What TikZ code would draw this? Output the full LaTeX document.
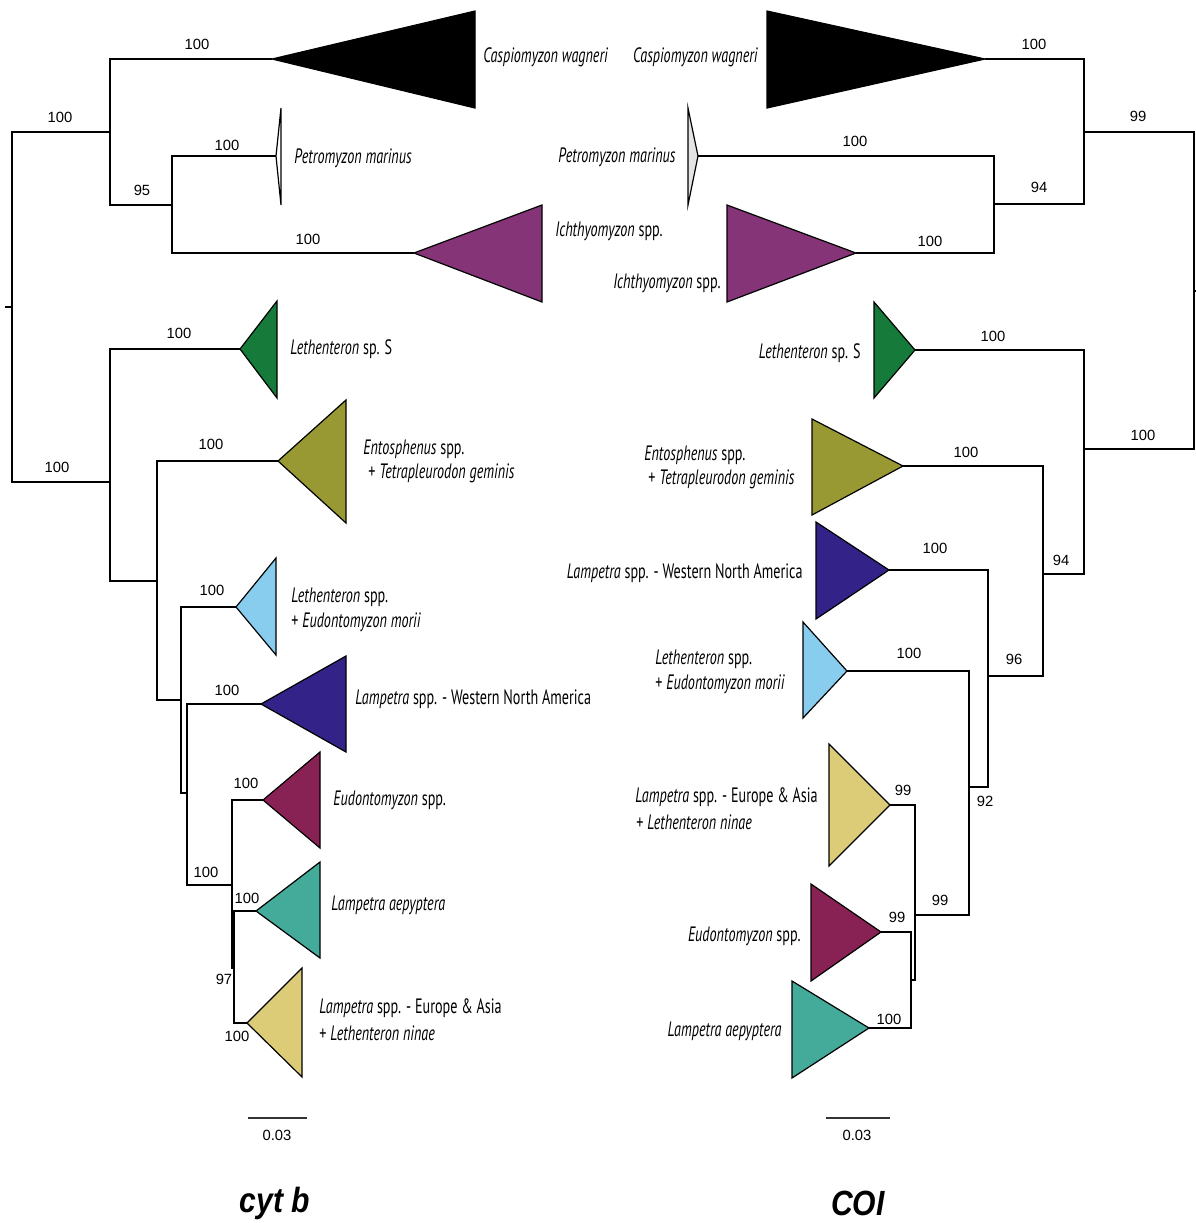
\documentclass[tikz,border=0pt]{standalone}
\usepackage{fontspec}
\setmainfont{Liberation Sans}
\newfontfamily\labf[FakeStretch=0.68]{PT Sans}
\newfontfamily\titf[FakeStretch=0.86]{Liberation Sans}
\definecolor{cpurple}{HTML}{843477}
\definecolor{cgreen}{HTML}{157A3A}
\definecolor{colive}{HTML}{999933}
\definecolor{ccyan}{HTML}{88CCEE}
\definecolor{cindigo}{HTML}{332288}
\definecolor{cwine}{HTML}{882255}
\definecolor{cteal}{HTML}{44AA99}
\definecolor{csand}{HTML}{DDCC77}
\definecolor{cgray}{HTML}{E4E4E4}
\begin{document}
\begin{tikzpicture}[x=0.5pt,y=-0.5pt,
  branch/.style={draw=black,line width=0.6pt},
  clade/.style={draw=black,line width=0.6pt,line join=miter},
  bs/.style={inner sep=0pt,font=\fontsize{7.4}{8}\selectfont},
  lab/.style={inner sep=0pt,font=\labf\fontsize{10.4}{12}\selectfont},
  labL/.style={lab,anchor=west},
  labR/.style={lab,anchor=east},
  ttl/.style={inner sep=0pt,font=\titf\bfseries\itshape\fontsize{17.5}{20}\selectfont}]
\useasboundingbox[fill=white] (0,0) rectangle (1196,1223);

% ---------------- LEFT TREE (cyt b) ----------------
\coordinate (R) at (12,307);
\coordinate (Rt) at (5,307);
\coordinate (N1) at (110,132);
\coordinate (N2) at (172,205);
\coordinate (N3) at (110,482);
\coordinate (N4) at (157,581);
\coordinate (N5) at (181,700);
\coordinate (N6) at (187,793);
\coordinate (N7) at (232,885);
\coordinate (N8) at (234,968);
\coordinate (cas) at (272,59);
\coordinate (pet) at (276,156);
\coordinate (ich) at (414,253);
\coordinate (les) at (240,349);
\coordinate (ent) at (278,461);
\coordinate (lsp) at (236,607);
\coordinate (wna) at (261,704);
\coordinate (eud) at (263,800);
\coordinate (lae) at (256,911);
\coordinate (lea) at (247,1023);

\draw[branch] (Rt) -- (R);
\draw[branch] (R) |- (N1);
\draw[branch] (R) |- (N3);
\draw[branch] (N1) |- (cas);
\draw[branch] (N1) |- (N2);
\draw[branch] (N2) |- (pet);
\draw[branch] (N2) |- (ich);
\draw[branch] (N3) |- (les);
\draw[branch] (N3) |- (N4);
\draw[branch] (N4) |- (ent);
\draw[branch] (N4) |- (N5);
\draw[branch] (N5) |- (lsp);
\draw[branch] (N5) |- (N6);
\draw[branch] (N6) |- (wna);
\draw[branch] (N6) |- (N7);
\draw[branch] (N7) |- (eud);
\draw[branch] (N7) |- (N8);
\draw[branch] (N8) |- (lae);
\draw[branch] (N8) |- (lea);

\draw[clade,fill=black] (cas) -- (475,11) -- (475,108) -- cycle;
\draw[clade,fill=white] (pet) -- (281,108) -- (281,205) -- cycle;
\draw[clade,fill=cpurple] (ich) -- (542,205) -- (542,302) -- cycle;
\draw[clade,fill=cgreen] (les) -- (277,301) -- (277,398) -- cycle;
\draw[clade,fill=colive] (ent) -- (346,400) -- (346,523) -- cycle;
\draw[clade,fill=ccyan] (lsp) -- (276,558) -- (276,655) -- cycle;
\draw[clade,fill=cindigo] (wna) -- (346,656) -- (346,752) -- cycle;
\draw[clade,fill=cwine] (eud) -- (320,752) -- (320,848) -- cycle;
\draw[clade,fill=cteal] (lae) -- (320,862) -- (320,958) -- cycle;
\draw[clade,fill=csand] (lea) -- (302,968) -- (302,1077) -- cycle;

\node[bs] (b1) at (60,117) {100};
\node[bs] (b2) at (197,44) {100};
\node[bs] (b3) at (142,190) {95};
\node[bs] (b4) at (227,145) {100};
\node[bs] (b5) at (308,239) {100};
\node[bs] (b6) at (57,467) {100};
\node[bs] (b7) at (179,333) {100};
\node[bs] (b8) at (211,444) {100};
\node[bs] (b9) at (212,590) {100};
\node[bs] (b10) at (227,690) {100};
\node[bs] (b11) at (206,872) {100};
\node[bs] (b12) at (246,783) {100};
\node[bs] (b13) at (247,898) {100};
\node[bs] (b14) at (224,979) {97};
\node[bs] (b15) at (237,1036) {100};

\node[labL] (tcas) at (483,57) {\itshape Caspiomyzon wagneri};
\node[labL] (tpet) at (294,158) {\itshape Petromyzon marinus};
\node[labL] (tich) at (555,231) {\textit{Ichthyomyzon} spp.};
\node[labL] (tles) at (290,349) {\textit{Lethenteron} sp. S};
\node[labL] (tent1) at (363,449) {\textit{Entosphenus} spp.};
\node[labL] (tent2) at (368,473) {+ \textit{Tetrapleurodon geminis}};
\node[labL] (tlsp1) at (291,597) {\textit{Lethenteron} spp.};
\node[labL] (tlsp2) at (291,622) {+ \textit{Eudontomyzon morii}};
\node[labL] (twna) at (355,699) {\textit{Lampetra} spp. - Western North America};
\node[labL] (teud) at (333,800) {\textit{Eudontomyzon} spp.};
\node[labL] (tlae) at (331,905) {\itshape Lampetra aepyptera};
\node[labL] (tlea1) at (319,1008) {\textit{Lampetra} spp. - Europe \& Asia};
\node[labL] (tlea2) at (319,1033) {+ \textit{Lethenteron ninae}};

\coordinate (s1a) at (248,1118);
\coordinate (s1b) at (307,1118);
\draw[line width=0.8pt,draw=black!80] (s1a) -- (s1b);
\node[bs] (s1t) at (277,1135) {0.03};
\node[ttl] (t1) at (275,1203) {cyt b};

% ---------------- RIGHT TREE (COI) ----------------
\coordinate (Q) at (1194,291);
\coordinate (Qt) at (1196,291);
\coordinate (M1) at (1084,132);
\coordinate (M2) at (994,204);
\coordinate (M3) at (1084,449);
\coordinate (M4) at (1043,574);
\coordinate (M5) at (988,676);
\coordinate (M6) at (969,787);
\coordinate (M7) at (915,915);
\coordinate (M8) at (911,980);
\coordinate (rcas) at (985,59);
\coordinate (rpet) at (698,156);
\coordinate (rich) at (856,253);
\coordinate (rles) at (915,350);
\coordinate (rent) at (903,466);
\coordinate (rwna) at (889,570);
\coordinate (rlsp) at (847,671);
\coordinate (rlea) at (890,805);
\coordinate (reud) at (881,932);
\coordinate (rlae) at (869,1028);

\draw[branch] (Qt) -- (Q);
\draw[branch] (Q) |- (M1);
\draw[branch] (Q) |- (M3);
\draw[branch] (M1) |- (rcas);
\draw[branch] (M1) |- (M2);
\draw[branch] (M2) |- (rpet);
\draw[branch] (M2) |- (rich);
\draw[branch] (M3) |- (rles);
\draw[branch] (M3) |- (M4);
\draw[branch] (M4) |- (rent);
\draw[branch] (M4) |- (M5);
\draw[branch] (M5) |- (rwna);
\draw[branch] (M5) |- (M6);
\draw[branch] (M6) |- (rlsp);
\draw[branch] (M6) |- (M7);
\draw[branch] (M7) |- (rlea);
\draw[branch] (M7) |- (M8);
\draw[branch] (M8) |- (reud);
\draw[branch] (M8) |- (rlae);

\draw[clade,fill=black] (rcas) -- (767,11) -- (767,108) -- cycle;
\draw[clade,fill=cgray] (rpet) -- (688,108) -- (688,205) -- cycle;
\draw[clade,fill=cpurple] (rich) -- (727,205) -- (727,302) -- cycle;
\draw[clade,fill=cgreen] (rles) -- (874,302) -- (874,398) -- cycle;
\draw[clade,fill=colive] (rent) -- (812,419) -- (812,515) -- cycle;
\draw[clade,fill=cindigo] (rwna) -- (816,522) -- (816,619) -- cycle;
\draw[clade,fill=ccyan] (rlsp) -- (803,622) -- (803,718) -- cycle;
\draw[clade,fill=csand] (rlea) -- (829,744) -- (829,866) -- cycle;
\draw[clade,fill=cwine] (reud) -- (811,884) -- (811,981) -- cycle;
\draw[clade,fill=cteal] (rlae) -- (792,981) -- (792,1078) -- cycle;

\node[bs] (c1) at (1138,116) {99};
\node[bs] (c2) at (1034,44) {100};
\node[bs] (c3) at (1039,187) {94};
\node[bs] (c4) at (855,141) {100};
\node[bs] (c5) at (930,241) {100};
\node[bs] (c6) at (1143,435) {100};
\node[bs] (c7) at (993,336) {100};
\node[bs] (c8) at (1061,560) {94};
\node[bs] (c9) at (966,452) {100};
\node[bs] (c10) at (1014,659) {96};
\node[bs] (c11) at (935,548) {100};
\node[bs] (c12) at (985,801) {92};
\node[bs] (c13) at (909,653) {100};
\node[bs] (c14) at (940,900) {99};
\node[bs] (c15) at (903,790) {99};
\node[bs] (c16) at (897,917) {99};
\node[bs] (c17) at (889,1019) {100};

\node[labR] (rtcas) at (758,57) {\itshape Caspiomyzon wagneri};
\node[labR] (rtpet) at (676,157) {\itshape Petromyzon marinus};
\node[labR] (rtich) at (721,283) {\textit{Ichthyomyzon} spp.};
\node[labR] (rtles) at (861,353) {\textit{Lethenteron} sp. S};
\node[labL] (rtent1) at (644,455) {\textit{Entosphenus} spp.};
\node[labL] (rtent2) at (648,479) {+ \textit{Tetrapleurodon geminis}};
\node[labR] (rtwna) at (803,573) {\textit{Lampetra} spp. - Western North America};
\node[labL] (rtlsp1) at (655,659) {\textit{Lethenteron} spp.};
\node[labL] (rtlsp2) at (655,684) {+ \textit{Eudontomyzon morii}};
\node[labL] (rtlea1) at (635,797) {\textit{Lampetra} spp. - Europe \& Asia};
\node[labL] (rtlea2) at (636,822) {+ \textit{Lethenteron ninae}};
\node[labR] (rteud) at (801,936) {\textit{Eudontomyzon} spp.};
\node[labR] (rtlae) at (782,1031) {\itshape Lampetra aepyptera};

\coordinate (s2a) at (826,1118);
\coordinate (s2b) at (890,1118);
\draw[line width=0.8pt,draw=black!80] (s2a) -- (s2b);
\node[bs] (s2t) at (857,1135) {0.03};
\node[ttl] (t2) at (858,1203) {COI};
\end{tikzpicture}
\end{document}
